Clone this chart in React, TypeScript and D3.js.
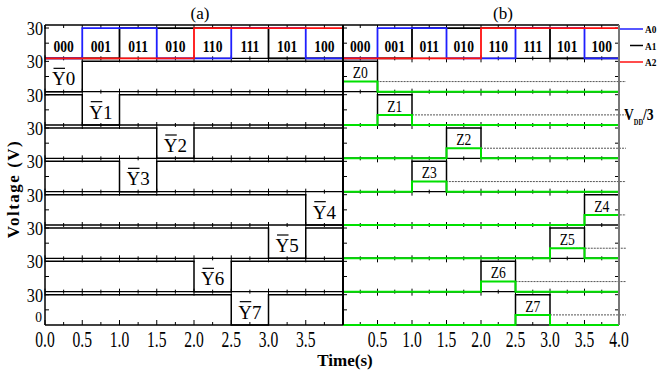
import React from 'react';
import * as d3 from 'd3';

const SLOT_STARTS = [0, 0.5, 1.0, 1.5, 2.0, 2.5, 3.0, 3.5];
const T_END = 4;
const ADDR_CODES = ['000', '001', '011', '010', '110', '111', '101', '100'];
const A0 = [0, 30, 30, 0, 0, 30, 30, 0];
const A1 = [0, 0, 30, 30, 30, 30, 0, 0];
const A2 = [0, 0, 0, 0, 30, 30, 30, 30];

const Y_NAMES = ['Y0', 'Y1', 'Y2', 'Y3', 'Y4', 'Y5', 'Y6', 'Y7'];
const Y_BAR = [
  [0, 30, 30, 30, 30, 30, 30, 30],
  [30, 0, 30, 30, 30, 30, 30, 30],
  [30, 30, 30, 0, 30, 30, 30, 30],
  [30, 30, 0, 30, 30, 30, 30, 30],
  [30, 30, 30, 30, 30, 30, 30, 0],
  [30, 30, 30, 30, 30, 30, 0, 30],
  [30, 30, 30, 30, 0, 30, 30, 30],
  [30, 30, 30, 30, 30, 0, 30, 30],
];

const Z_NAMES = ['Z0', 'Z1', 'Z2', 'Z3', 'Z4', 'Z5', 'Z6', 'Z7'];
const Z_BLACK = [
  [30, 0, 0, 0, 0, 0, 0, 0],
  [0, 30, 0, 0, 0, 0, 0, 0],
  [0, 0, 0, 30, 0, 0, 0, 0],
  [0, 0, 30, 0, 0, 0, 0, 0],
  [0, 0, 0, 0, 0, 0, 0, 30],
  [0, 0, 0, 0, 0, 0, 30, 0],
  [0, 0, 0, 0, 30, 0, 0, 0],
  [0, 0, 0, 0, 0, 30, 0, 0],
];
const Z_GREEN = [
  [10, 0, 0, 0, 0, 0, 0, 0],
  [0, 10, 0, 0, 0, 0, 0, 0],
  [0, 0, 0, 10, 0, 0, 0, 0],
  [0, 0, 10, 0, 0, 0, 0, 0],
  [0, 0, 0, 0, 0, 0, 0, 10],
  [0, 0, 0, 0, 0, 0, 10, 0],
  [0, 0, 0, 0, 10, 0, 0, 0],
  [0, 0, 0, 0, 0, 10, 0, 0],
];
const Z_DOT_START = [0.4, 0.87, 2.0, 1.36, 3.62, 3.33, 2.5, 3.0];
const Z_DOT_END = 4.1;
const VDD3 = 10;

const X_TICKS_A = [0, 0.5, 1.0, 1.5, 2.0, 2.5, 3.0, 3.5];
const X_TICK_LABELS_A = ['0.0', '0.5', '1.0', '1.5', '2.0', '2.5', '3.0', '3.5'];
const X_TICKS_B = [0, 0.5, 1.0, 1.5, 2.0, 2.5, 3.0, 3.5, 4.0];
const X_TICK_LABELS_B = ['0.0', '0.5', '1.0', '1.5', '2.0', '2.5', '3.0', '3.5', '4.0'];
const Y_TICK_VALUE = 30;
const Y_TICK_LABEL = '30';
const Y_ZERO_LABEL = '0';
const Y_DOMAIN = [0, 33];

const LEGEND = [
  { name: 'A0', color: '#1f1fff' },
  { name: 'A1', color: '#000000' },
  { name: 'A2', color: '#ff1010' },
];

const W = 657;
const H = 376;
const TOP = 25;
const BOTTOM = 325;
const NROWS = 9;
const ROW_H = (BOTTOM - TOP) / NROWS;
const GREEN = '#00e000';
const SERIF = '"Liberation Serif", "Times New Roman", serif';

export default function App() {
  const xa = d3.scaleLinear().domain([0, T_END]).range([45, 343]);
  const xb = d3.scaleLinear().domain([0, T_END]).range([343, 619]);
  const rowTop = (i: number) => TOP + i * ROW_H;
  const yRow = (i: number) => d3.scaleLinear().domain(Y_DOMAIN).range([rowTop(i) + ROW_H, rowTop(i)]);
  const pts = (vals: number[]) => [...SLOT_STARTS.map((t, i) => [t, vals[i]]), [T_END, vals[vals.length - 1]]];
  const step = (x: any, y: any, vals: number[]) =>
    d3.line<number[]>().x((d) => x(d[0])).y((d) => y(d[1])).curve(d3.curveStepAfter)(pts(vals)) || '';

  const minorT = d3.range(0, T_END + 0.001, 0.25);
  const isMajor = (t: number) => Math.abs(t * 2 - Math.round(t * 2)) < 1e-6;

  const els: React.ReactNode[] = [];
  let key = 0;
  const k = () => key++;

  // row boundary lines with ticks
  for (let i = 0; i <= NROWS; i++) {
    const y = TOP + i * ROW_H;
    [xa, xb].forEach((x) => {
      els.push(<line key={k()} x1={x(0)} x2={x(T_END)} y1={y} y2={y} stroke="#000" strokeWidth={1.3} />);
      minorT.forEach((t) => {
        const maj = isMajor(t);
        let y1 = y - (maj ? 3 : 2);
        let y2 = y + (maj ? 4 : 2);
        if (i === 0) { y1 = y; y2 = y + (maj ? 4 : 3); }
        if (i === NROWS) { y1 = y - (maj ? 5 : 3); y2 = y; }
        els.push(<line key={k()} x1={x(t)} x2={x(t)} y1={y1} y2={y2} stroke="#000" strokeWidth={1} />);
      });
    });
  }

  // y ticks on axes
  for (let i = 0; i < NROWS; i++) {
    const y = yRow(i);
    [Y_TICK_VALUE, 15].forEach((v) => {
      els.push(<line key={k()} x1={45} x2={49} y1={y(v)} y2={y(v)} stroke="#000" strokeWidth={1} />);
      els.push(<line key={k()} x1={343} x2={347} y1={y(v)} y2={y(v)} stroke="#000" strokeWidth={1} />);
      els.push(<line key={k()} x1={615} x2={619} y1={y(v)} y2={y(v)} stroke="#000" strokeWidth={1} />);
    });
    els.push(
      <text key={k()} transform={`translate(43,${y(Y_TICK_VALUE) + 7}) scale(0.9,1)`} textAnchor="end" fontSize={18} fontFamily={SERIF}>
        {Y_TICK_LABEL}
      </text>
    );
  }
  els.push(
    <text key={k()} transform={`translate(42,${BOTTOM - 3}) scale(0.9,1)`} textAnchor="end" fontSize={15} fontFamily={SERIF}>
      {Y_ZERO_LABEL}
    </text>
  );

  // address row in both panels
  const y0 = yRow(0);
  [xa, xb].forEach((x) => {
    els.push(<path key={k()} d={step(x, y0, A1)} fill="none" stroke={LEGEND[1].color} strokeWidth={1.8} />);
    els.push(<path key={k()} d={step(x, y0, A0)} fill="none" stroke={LEGEND[0].color} strokeWidth={1.8} />);
    els.push(<path key={k()} d={step(x, y0, A2)} fill="none" stroke={LEGEND[2].color} strokeWidth={1.8} />);
    ADDR_CODES.forEach((c, i) => {
      els.push(
        <text key={k()} transform={`translate(${x(SLOT_STARTS[i] + 0.25)},${rowTop(0) + 27}) scale(0.8,1)`} textAnchor="middle" fontSize={17} fontWeight="bold" fontFamily={SERIF}>
          {c}
        </text>
      );
    });
  });

  // panel (a): Y-bar outputs
  Y_BAR.forEach((vals, j) => {
    const y = yRow(j + 1);
    els.push(<path key={k()} d={step(xa, y, vals)} fill="none" stroke="#000" strokeWidth={1.5} />);
    const s = vals.findIndex((v) => v === 0);
    const cx = xa(SLOT_STARTS[s] + 0.25);
    const base = rowTop(j + 1) + 27;
    const startX = cx - (0.722 + 0.5) * 19 / 2;
    els.push(
      <text key={k()} x={cx} y={base} textAnchor="middle" fontSize={19} fontFamily={SERIF}>
        {Y_NAMES[j]}
      </text>
    );
    els.push(<line key={k()} x1={startX + 1.5} x2={startX + 13} y1={base - 17} y2={base - 17} stroke="#000" strokeWidth={1.2} />);
  });

  // panel (b): Z outputs
  Z_BLACK.forEach((vals, j) => {
    const y = yRow(j + 1);
    els.push(<path key={k()} d={step(xb, y, vals)} fill="none" stroke="#000" strokeWidth={1.5} />);
  });
  Z_GREEN.forEach((vals, j) => {
    const y = yRow(j + 1);
    els.push(
      <line key={k()} x1={xb(Z_DOT_START[j])} x2={xb(Z_DOT_END)} y1={y(VDD3)} y2={y(VDD3)} stroke="#555" strokeWidth={1} strokeDasharray="2,1" />
    );
    els.push(<path key={k()} d={step(xb, y, vals)} fill="none" stroke={GREEN} strokeWidth={2} />);
    const s = Z_BLACK[j].findIndex((v) => v > 0);
    els.push(
      <text key={k()} transform={`translate(${xb(SLOT_STARTS[s] + 0.25)},${rowTop(j + 1) + 20}) scale(0.85,1)`} textAnchor="middle" fontSize={16} fontFamily={SERIF}>
        {Z_NAMES[j]}
      </text>
    );
  });

  // axes frame
  els.push(<line key={k()} x1={45} x2={45} y1={TOP} y2={BOTTOM} stroke="#000" strokeWidth={1.5} />);
  els.push(<line key={k()} x1={343} x2={343} y1={TOP} y2={BOTTOM} stroke="#000" strokeWidth={2} />);
  els.push(<line key={k()} x1={619} x2={619} y1={TOP} y2={BOTTOM} stroke="#777" strokeWidth={2} />);

  // bottom tick labels
  X_TICKS_A.forEach((t, i) => {
    els.push(
      <text key={k()} transform={`translate(${xa(t)},${BOTTOM + 22}) scale(0.65,1)`} textAnchor="middle" fontSize={24} fontFamily={SERIF}>
        {X_TICK_LABELS_A[i]}
      </text>
    );
  });
  X_TICKS_B.forEach((t, i) => {
    if (i === 0) return;
    els.push(
      <text key={k()} transform={`translate(${xb(t)},${BOTTOM + 22}) scale(0.65,1)`} textAnchor="middle" fontSize={24} fontFamily={SERIF}>
        {X_TICK_LABELS_B[i]}
      </text>
    );
  });

  // legend
  LEGEND.forEach((l, i) => {
    const ly = 29 + i * 16.5;
    els.push(<line key={k()} x1={i === 1 ? 630 : 620} x2={643} y1={ly} y2={ly} stroke={l.color} strokeWidth={1.5} />);
    els.push(
      <text key={k()} transform={`translate(645,${ly + 4}) scale(0.85,1)`} fontSize={11} fontWeight="bold" fontFamily={SERIF}>
        {l.name}
      </text>
    );
  });

  return (
    <svg width={W} height={H} style={{ position: 'absolute', left: 0, top: 0, background: '#fff' }}>
      <rect x={0} y={0} width={W} height={H} fill="#fff" />
      {els}
      <text x={200} y={19} textAnchor="middle" fontSize={17} fontFamily={SERIF}>(a)</text>
      <text x={503} y={19} textAnchor="middle" fontSize={17} fontFamily={SERIF}>(b)</text>
      <text transform="translate(19,189) rotate(-90)" textAnchor="middle" fontSize={17} fontWeight="bold" fontFamily={SERIF} letterSpacing={1.5}>
        Voltage (V)
      </text>
      <text x={345} y={366} textAnchor="middle" fontSize={17} fontWeight="bold" fontFamily={SERIF}>Time(s)</text>
      <text transform="translate(624,120) scale(0.8,1)" fontSize={17} fontWeight="bold" fontFamily={SERIF}>
        V<tspan fontSize={8} dy={5}>DD</tspan><tspan fontSize={17} dy={-5}>/3</tspan>
      </text>
    </svg>
  );
}
